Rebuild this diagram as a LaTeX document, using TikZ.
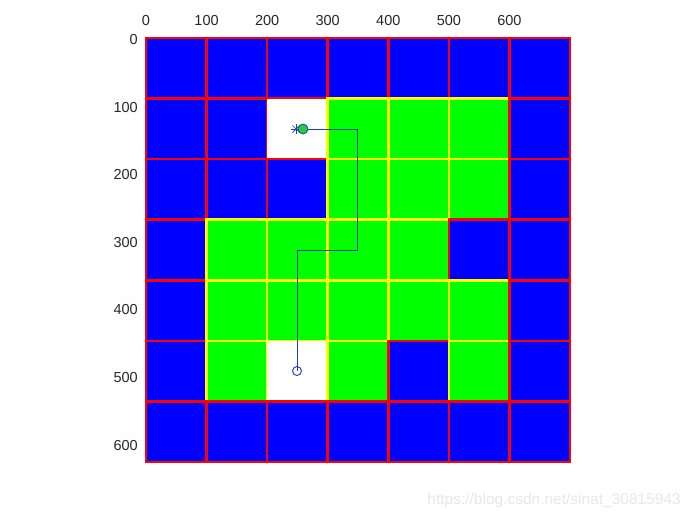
\documentclass[tikz,border=0pt]{standalone}
\usepackage{fontspec}
\setmainfont{Liberation Sans}
\usetikzlibrary{calc}
\definecolor{Fb}{RGB}{0,0,255}
\definecolor{Db}{RGB}{255,0,0}
\definecolor{Fg}{RGB}{0,255,0}
\definecolor{Dg}{RGB}{255,255,0}
\definecolor{pathcol}{RGB}{30,60,190}
\definecolor{ticktext}{RGB}{40,40,40}
\definecolor{marktext}{RGB}{232,232,232}
\tikzset{
  ticklab/.style={text=ticktext, font=\fontsize{14.5}{16}\selectfont, inner sep=0pt},
  celledge/.style={line width=2.6pt},
  route/.style={draw=pathcol, line width=1pt},
}
\begin{document}
\begin{tikzpicture}[x=1pt,y=-1pt]
\useasboundingbox (0,0) rectangle (693,520);
\fill[white] (0,0) rectangle (693,520);
\def\cw{60.571}
\foreach \r/\rowstr in {0/{b,b,b,b,b,b,b},1/{b,b,w,g,g,g,b},2/{b,b,b,g,g,g,b},3/{b,g,g,g,g,b,b},4/{b,g,g,g,g,g,b},5/{b,g,w,g,b,g,b},6/{b,b,b,b,b,b,b}}{
  \foreach [count=\c from 0] \t in \rowstr {
    \if w\t
      \fill[white] ({146+\c*\cw},{38+\r*\cw}) rectangle ++(\cw,\cw);
    \else
      \path[celledge, fill=F\t, draw=D\t] ({146+\c*\cw},{38+\r*\cw}) rectangle ++(\cw,\cw);
    \fi
  }
}
% tick labels
\foreach \k in {0,...,6}{
  \pgfmathtruncatemacro{\v}{100*\k}
  \node[ticklab, anchor=center] (xt\k) at ({146+\k*\cw},21) {\v};
  \node[ticklab, anchor=east] (yt\k) at (138,{40+\k*67.5}) {\v};
}
% path
\coordinate (start) at (303,129);
\coordinate (p1) at (357,129);
\coordinate (p2) at (357,250);
\coordinate (p3) at (297,250);
\coordinate (goal) at (297,371);
\draw[route] (start) -- (p1) -- (p2) -- (p3) -- (goal);
% asterisk marker
\coordinate (star) at (296,129);
\foreach \a in {0,45,90,135}{
  \draw[pathcol, line width=0.7pt] ($(star)+(\a:5)$) -- ($(star)+(\a+180:5)$);
}
\node[circle, draw={rgb,255:red,20;green,90;blue,110}, fill={rgb,255:red,40;green,200;blue,70}, line width=0.8pt, minimum size=10pt, inner sep=0pt] (startmark) at (start) {};
\node[circle, draw=pathcol, line width=0.9pt, minimum size=9pt, inner sep=0pt] (goalmark) at (goal) {};
% watermark
\node[anchor=east, text=marktext, font=\fontsize{15.5}{17}\selectfont, inner sep=0pt] (wm) at (681,500) {https://blog.csdn.net/sinat\_30815943};
\end{tikzpicture}
\end{document}
